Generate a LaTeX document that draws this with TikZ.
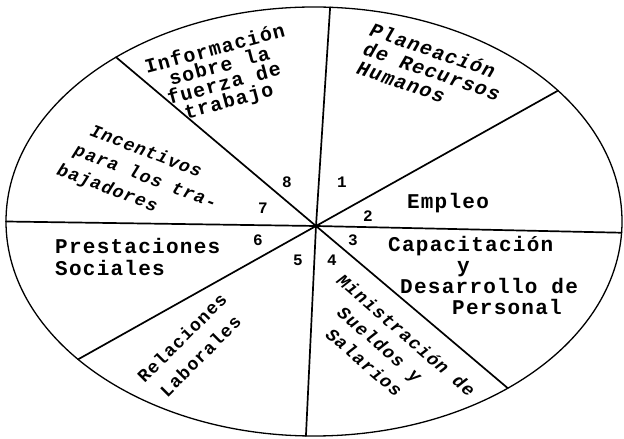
\documentclass[tikz,border=0pt]{standalone}
\usepackage{fontspec}
\newfontfamily\typer[LetterSpace=6]{Liberation Mono}
\usetikzlibrary{calc}
\tikzset{
    rim/.style={
        line width=1.3pt
    },
    spoke/.style={
        line width=1.7pt, line cap=round
    },
    areatext/.style 2 args={
        font=\typer\bfseries\fontsize{#1}{#2}\selectfont, inner sep=0pt
    },
    areaslant/.style 2 args={
        font=\typer\bfseries\itshape\fontsize{#1}{#2}\selectfont, inner sep=0pt
    },
    secnum/.style={
        font=\typer\bfseries\fontsize{16}{16}\selectfont, inner sep=0pt
    }
}
\begin{document}
\begin{tikzpicture}[x=1pt, y=1pt]
    \useasboundingbox (0,0) rectangle (624,439);

    % ── Outline ──
    \coordinate (mid) at (314,217.5);
    \coordinate (hub) at (316,213);
    \draw[rim] (mid) ellipse [x radius=308pt, y radius=214.5pt];

    % ── Spoke ends ──
    \coordinate (cut81) at ($(mid)+(87:308pt and 214.5pt)$);
    \coordinate (cut12) at ($(mid)+(37.6:308pt and 214.5pt)$);
    \coordinate (cut23) at ($(mid)+(-3:308pt and 214.5pt)$);
    \coordinate (cut34) at ($(mid)+(-51:308pt and 214.5pt)$);
    \coordinate (cut45) at ($(mid)+(-91.5:308pt and 214.5pt)$);
    \coordinate (cut56) at ($(mid)+(-140:308pt and 214.5pt)$);
    \coordinate (cut67) at ($(mid)+(180:308pt and 214.5pt)$);
    \coordinate (cut78) at ($(mid)+(130:308pt and 214.5pt)$);

    % ── Spokes ──
    \draw[spoke] (hub) -- (cut81);
    \draw[spoke] (hub) -- (cut12);
    \draw[spoke] (hub) -- (cut23);
    \draw[spoke] (hub) -- (cut34);
    \draw[spoke] (hub) -- (cut45);
    \draw[spoke] (hub) -- (cut56);
    \draw[spoke] (hub) -- (cut67);
    \draw[spoke] (hub) -- (cut78);

    % ── Areas ──
    \node[areaslant={20}{20}, rotate=-19, align=left]   (planning) at (432,368) {Planeación\\de Recursos\\Humanos};
    \node[areatext={21}{22}]                            (hiring)   at (448,236) {Empleo};
    \node[areatext={21}{21}, align=left, anchor=west]   (training) at (388,164)
        {Capacitación\\\hspace*{69pt}y\\\hspace*{12pt}Desarrollo de\\\hspace*{64pt}Personal};
    \node[areaslant={18}{24}, rotate=-41, align=center] (wages)    at (380,95)
        {\hspace*{28pt}Ministración de\\Sueldos y\\Salarios};
    \node[areatext={18}{26}, rotate=45, align=center]   (labour)   at (191,92)  {Relaciones\\Laborales};
    \node[areatext={21}{22}, align=left, anchor=west]   (benefits) at (55,182)  {Prestaciones\\Sociales};
    \node[areaslant={18}{24}, rotate=-21, align=left]   (bonus)    at (141,263)
        {\hspace*{17pt}Incentivos\\\hspace*{9pt}para los tra-\\bajadores};
    \node[areatext={20}{18}, rotate=15, align=center]   (info)     at (222,363) {Información\\sobre la\\fuerza de\\trabajo};

    % ── Numbers ──
    \node[secnum] (n1) at (342,257) {1};
    \node[secnum] (n2) at (368,223) {2};
    \node[secnum] (n3) at (353,199) {3};
    \node[secnum] (n4) at (332,179) {4};
    \node[secnum] (n5) at (298,179) {5};
    \node[secnum] (n6) at (258,199) {6};
    \node[secnum] (n7) at (263,231) {7};
    \node[secnum] (n8) at (287,257) {8};

\end{tikzpicture}
\end{document}
